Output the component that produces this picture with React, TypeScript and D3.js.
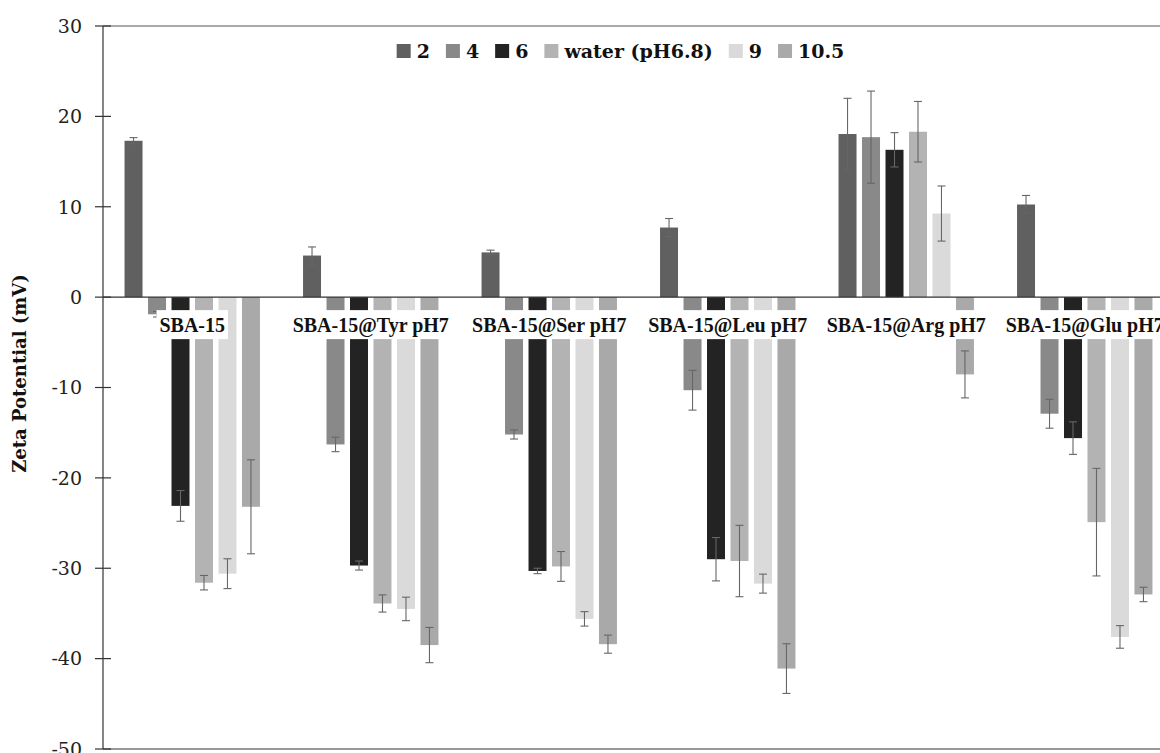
import React, { useEffect, useRef } from "react";
import * as d3 from "d3";

const categories = ["SBA-15", "SBA-15@Tyr pH7", "SBA-15@Ser pH7", "SBA-15@Leu pH7", "SBA-15@Arg pH7", "SBA-15@Glu pH7"];
const seriesNames = ["2", "4", "6", "water (pH6.8)", "9", "10.5"];
const seriesColors = ["#606060", "#898989", "#232323", "#b3b3b3", "#dadada", "#a9a9a9"];

const valsPH2 = [17.3, 4.6, 4.95, 7.7, 18.05, 10.25];
const errPH2 = [0.35, 0.95, 0.25, 1.0, 3.95, 1.0];
const valsPH4 = [-1.9, -16.3, -15.2, -10.3, 17.7, -12.9];
const errPH4 = [0.3, 0.8, 0.5, 2.2, 5.1, 1.6];
const valsPH6 = [-23.1, -29.7, -30.3, -29.0, 16.3, -15.6];
const errPH6 = [1.7, 0.5, 0.3, 2.4, 1.9, 1.8];
const valsWater = [-31.6, -33.9, -29.8, -29.2, 18.3, -24.9];
const errWater = [0.8, 0.95, 1.65, 3.95, 3.35, 5.95];
const valsPH9 = [-30.6, -34.5, -35.6, -31.7, 9.25, -37.6];
const errPH9 = [1.65, 1.3, 0.8, 1.05, 3.05, 1.25];
const valsPH105 = [-23.2, -38.5, -38.4, -41.1, -8.55, -32.9];
const errPH105 = [5.2, 1.95, 1.0, 2.75, 2.6, 0.8];

const yTicks = [30, 20, 10, 0, -10, -20, -30, -40, -50];
const yTitle = "Zeta Potential (mV)";

const allVals = [valsPH2, valsPH4, valsPH6, valsWater, valsPH9, valsPH105];
const allErrs = [errPH2, errPH4, errPH6, errWater, errPH9, errPH105];

export default function App() {
  const ref = useRef<SVGSVGElement>(null);

  useEffect(() => {
    const svg = d3.select(ref.current);
    svg.selectAll("*").remove();

    const left = 103;
    const groupStep = 178.5;
    const top = 26;
    const bottom = 749;

    const x0 = d3.scaleBand<string>().domain(categories).range([left, left + groupStep * categories.length]).padding(0);
    const x1 = d3.scaleBand<string>().domain(seriesNames).range([0, x0.bandwidth()]).paddingInner(0.234).paddingOuter(0.917);
    const y = d3.scaleLinear().domain([-50, 30]).range([bottom, top]);
    const right = left + groupStep * categories.length;

    const data = categories.flatMap((c, ci) =>
      seriesNames.map((s, si) => ({ c, s, si, v: allVals[si][ci], e: allErrs[si][ci] }))
    );

    // top border
    svg.append("line").attr("x1", left).attr("x2", right).attr("y1", y(30)).attr("y2", y(30))
      .attr("stroke", "#555").attr("stroke-width", 1);

    // bars
    svg.append("g").selectAll("rect").data(data).join("rect")
      .attr("x", d => (x0(d.c) as number) + (x1(d.s) as number))
      .attr("width", x1.bandwidth())
      .attr("y", d => y(Math.max(0, d.v)))
      .attr("height", d => Math.abs(y(d.v) - y(0)))
      .attr("fill", d => seriesColors[d.si]);

    // error bars
    const eg = svg.append("g").attr("stroke", "#666").attr("stroke-width", 1.1).attr("fill", "none");
    data.forEach(d => {
      const cx = (x0(d.c) as number) + (x1(d.s) as number) + x1.bandwidth() / 2;
      const y1 = y(d.v + d.e), y2 = y(d.v - d.e);
      eg.append("line").attr("x1", cx).attr("x2", cx).attr("y1", y1).attr("y2", y2);
      eg.append("line").attr("x1", cx - 4).attr("x2", cx + 4).attr("y1", y1).attr("y2", y1);
      eg.append("line").attr("x1", cx - 4).attr("x2", cx + 4).attr("y1", y2).attr("y2", y2);
    });

    // category labels with white background
    const lg = svg.append("g");
    categories.forEach(c => {
      const cx = (x0(c) as number) + x0.bandwidth() / 2;
      const by = y(0) + 35;
      const bg = lg.append("rect").attr("fill", "#fff");
      const t = lg.append("text").attr("x", cx).attr("y", by).attr("text-anchor", "middle")
        .attr("font-family", "'Liberation Serif', serif").attr("font-weight", "bold").attr("font-size", 20)
        .attr("fill", "#111").text(c);
      const w = (t.node() as SVGTextElement).getComputedTextLength();
      bg.attr("x", cx - w / 2 - 3).attr("width", w + 6).attr("y", by - 22).attr("height", 29);
    });

    // zero line
    svg.append("line").attr("x1", left).attr("x2", right).attr("y1", y(0)).attr("y2", y(0))
      .attr("stroke", "#333").attr("stroke-width", 1.2);
    // bottom line
    svg.append("line").attr("x1", left).attr("x2", right).attr("y1", y(-50)).attr("y2", y(-50))
      .attr("stroke", "#333").attr("stroke-width", 1.2);

    // y axis
    const ax = svg.append("g");
    ax.append("line").attr("x1", left).attr("x2", left).attr("y1", top).attr("y2", bottom)
      .attr("stroke", "#333").attr("stroke-width", 1.2);
    yTicks.forEach(t => {
      ax.append("line").attr("x1", left - 8).attr("x2", left + 8).attr("y1", y(t)).attr("y2", y(t))
        .attr("stroke", "#333").attr("stroke-width", 1.2);
      ax.append("text").attr("x", 82).attr("y", y(t)).attr("dy", "0.36em").attr("text-anchor", "end")
        .attr("font-family", "'DejaVu Serif', serif").attr("font-size", 19).attr("fill", "#222")
        .text(String(t));
    });

    svg.append("text")
      .attr("transform", `translate(26,${(top + bottom) / 2 - 14}) rotate(-90)`)
      .attr("text-anchor", "middle")
      .attr("font-family", "'DejaVu Serif', serif").attr("font-weight", "bold").attr("font-size", 18)
      .attr("fill", "#111").text(yTitle);

    // legend
    const leg = svg.append("g");
    const sq = 14, gap = 6, itemGap = 16;
    const items: { g: any; w: number }[] = [];
    seriesNames.forEach((s, i) => {
      const g = leg.append("g");
      g.append("rect").attr("x", 0).attr("y", -sq / 2).attr("width", sq).attr("height", sq).attr("fill", seriesColors[i]);
      const t = g.append("text").attr("x", sq + gap).attr("y", 0).attr("dy", "0.36em")
        .attr("font-family", "'DejaVu Serif', serif").attr("font-weight", "bold").attr("font-size", 19)
        .attr("fill", "#111").text(s);
      const w = sq + gap + (t.node() as SVGTextElement).getComputedTextLength();
      items.push({ g, w });
    });
    const total = items.reduce((a, b) => a + b.w, 0) + itemGap * (items.length - 1);
    let lx = 620.5 - total / 2;
    items.forEach(it => {
      it.g.attr("transform", `translate(${lx},51)`);
      lx += it.w + itemGap;
    });
  }, []);

  return (
    <svg ref={ref} width={1160} height={753}
      style={{ position: "absolute", left: 0, top: 0, background: "#fff" }} />
  );
}
